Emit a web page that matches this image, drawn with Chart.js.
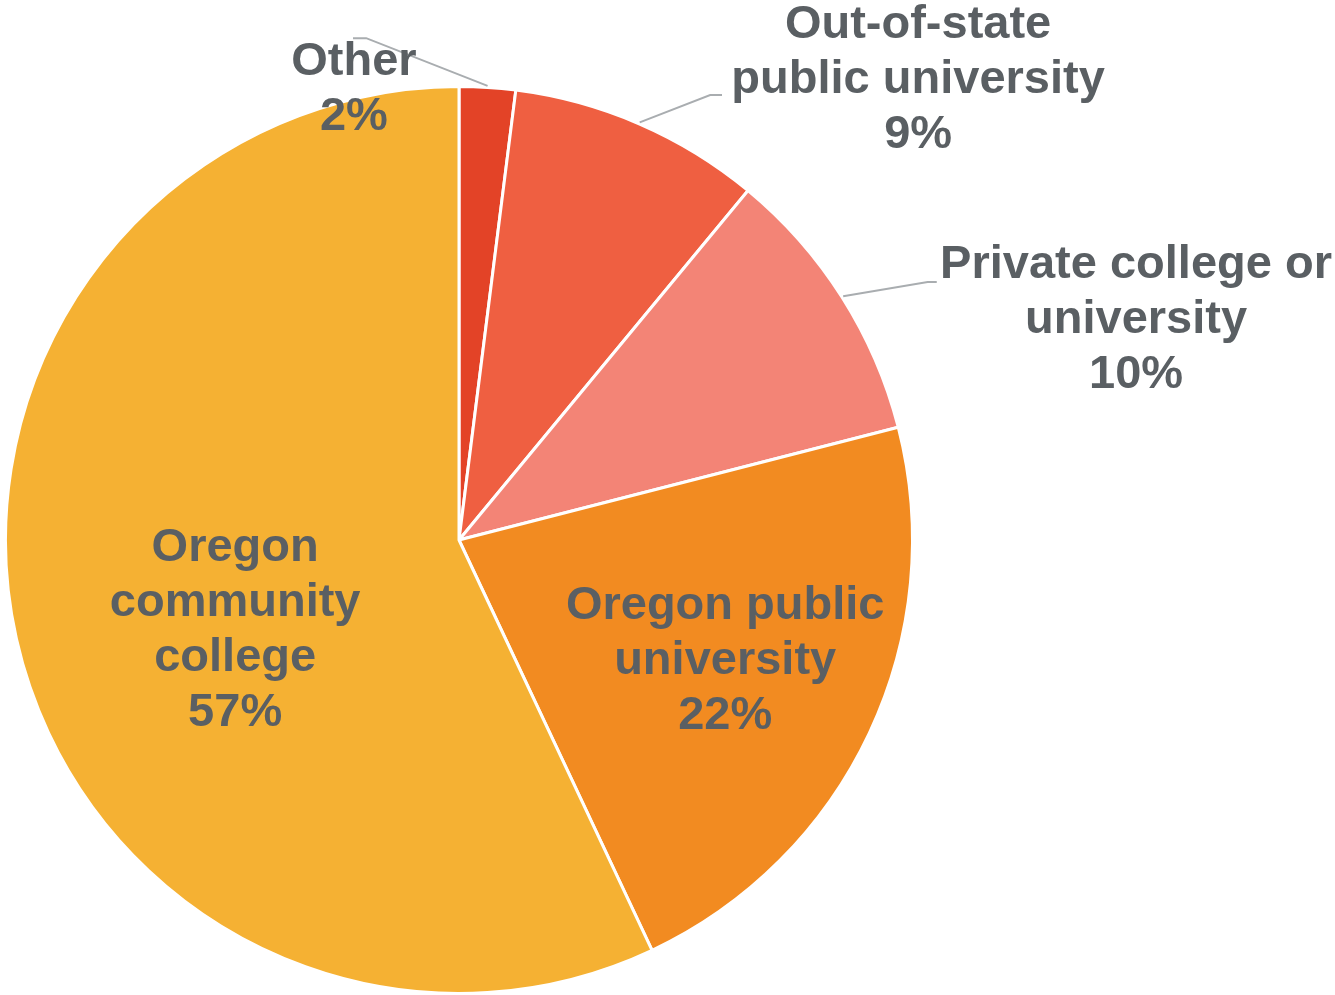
<!DOCTYPE html>
<html lang="en">
<head>
  <meta charset="UTF-8">
  <title>Pie chart</title>
  <style>
    html, body { margin: 0; padding: 0; background: #fff; }
    canvas#pieCanvas { display: block; }
  </style>
  <script src="https://cdn.jsdelivr.net/npm/chart.js"></script>
</head>
<body>
  <canvas id="pieCanvas" width="1335" height="995"></canvas>

  <script>
    // data, clockwise from 12 o'clock
    const categories = [
      ["Other"],
      ["Out-of-state", "public university"],
      ["Private college or", "university"],
      ["Oregon public", "university"],
      ["Oregon", "community", "college"]
    ];
    const shares = [2, 9, 10, 22, 57];
    const sliceColors = ["#E34327", "#EF5F41", "#F38476", "#F28B21", "#F5B133"];

    // label placement, in units of the pie radius from its centre
    const labelLayout = [
      { x: -0.231, y: -0.989, elbow: [-0.204, -1.103], end: [-0.233, -1.103] },
      { x: 1.009, y: -1.011, elbow: [0.552, -0.978], end: [0.578, -0.978] },
      { x: 1.488, y: -0.484, elbow: [1.03, -0.567], end: [1.05, -0.567] },
      { x: 0.585, y: 0.266 },
      { x: -0.492, y: 0.198 }
    ];

    const sliceLabels = {
      id: "sliceLabels",
      afterDatasetsDraw(chart) {
        const ctx = chart.ctx;
        const arcs = chart.getDatasetMeta(0).data;
        const lineH = 55;
        ctx.save();
        arcs.forEach((arc, i) => {
          const r = arc.outerRadius + 1.5;
          const cx = arc.x, cy = arc.y;
          const pos = labelLayout[i];
          if (pos.elbow) {
            const mid = (arc.startAngle + arc.endAngle) / 2;
            ctx.beginPath();
            ctx.moveTo(cx + Math.cos(mid) * r, cy + Math.sin(mid) * r);
            ctx.lineTo(cx + pos.elbow[0] * r, cy + pos.elbow[1] * r);
            ctx.lineTo(cx + pos.end[0] * r, cy + pos.end[1] * r);
            ctx.strokeStyle = "#A9ADB0";
            ctx.lineWidth = 2;
            ctx.stroke();
          }
          const lines = categories[i].concat([shares[i] + "%"]);
          const lx = cx + pos.x * r;
          const ly = cy + pos.y * r - (lines.length - 1) * lineH / 2;
          ctx.font = "bold 47px 'Liberation Sans', Arial, sans-serif";
          ctx.fillStyle = "#5A5F63";
          ctx.textAlign = "center";
          ctx.textBaseline = "middle";
          lines.forEach((t, k) => ctx.fillText(t, lx, ly + k * lineH));
        });
        ctx.restore();
      }
    };

    new Chart(document.getElementById("pieCanvas"), {
      type: "pie",
      data: {
        labels: categories,
        datasets: [{
          data: shares,
          backgroundColor: sliceColors,
          borderColor: "#ffffff",
          borderWidth: 3
        }]
      },
      options: {
        responsive: false,
        animation: false,
        layout: { padding: { left: 4, top: 85, right: 421, bottom: 0 } },
        plugins: {
          legend: { display: false },
          tooltip: { enabled: false }
        }
      },
      plugins: [sliceLabels]
    });
  </script>
</body>
</html>
